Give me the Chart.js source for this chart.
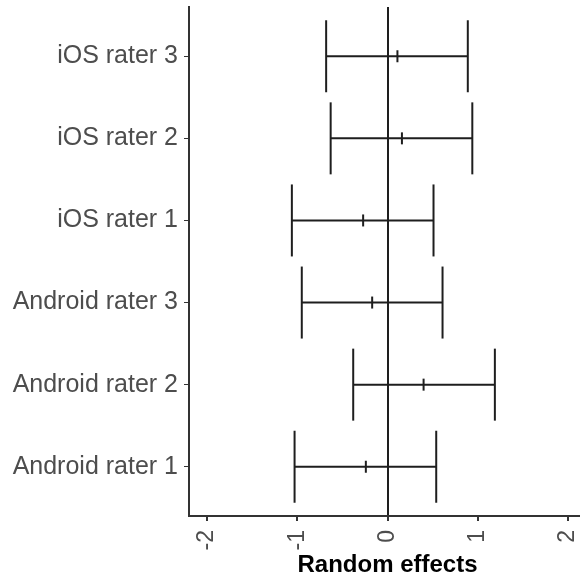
<!DOCTYPE html>
<html>
<head>
<meta charset="utf-8">
<script src="https://cdn.jsdelivr.net/npm/chart.js@4.4.1/dist/chart.umd.min.js"></script>
<style>
  html, body { margin: 0; padding: 0; background: #fff; overflow: hidden; }
  #wrap { width: 580px; height: 580px; overflow: hidden; }
</style>
</head>
<body>
<div id="wrap"><canvas id="chart" width="600" height="580"></canvas></div>
<script>
// bottom to top, as on the y axis
const raters = ['Android rater 1', 'Android rater 2', 'Android rater 3', 'iOS rater 1', 'iOS rater 2', 'iOS rater 3'];
const estimates = [-0.24, 0.40, -0.17, -0.27, 0.16, 0.11];
const lowerCI = [-1.03, -0.38, -0.95, -1.06, -0.63, -0.68];
const upperCI = [0.54, 1.19, 0.61, 0.51, 0.94, 0.89];
const xTickValues = [-2, -1, 0, 1, 2];

const FONT = 'Liberation Sans, Arial, sans-serif';
const INK = '#1e1e1e';

// kill the extra room Chart.js keeps for edge labels
const noPad = s => { s.paddingTop = 0; s.paddingBottom = 0; s.paddingLeft = 0; s.paddingRight = 0; };

// one dataset per error bar: horizontal segment + vertical caps
const barSets = raters.map((r, i) => ({
    label: r,
    data: [{ x: lowerCI[i], y: i + 1 }, { x: upperCI[i], y: i + 1 }],
    showLine: true,
    borderColor: INK,
    borderWidth: 2,
    pointStyle: 'line',
    pointRotation: 90,
    pointRadius: 36,
    pointBorderWidth: 2,
    pointBorderColor: INK,
    pointHoverRadius: 36
}));

const estSet = {
    label: 'estimate',
    data: estimates.map((v, i) => ({ x: v, y: i + 1 })),
    showLine: false,
    pointStyle: 'line',
    pointRotation: 90,
    pointRadius: 6,
    pointBorderWidth: 2,
    pointBorderColor: INK,
    pointHoverRadius: 6
};

new Chart(document.getElementById('chart'), {
    type: 'scatter',
    data: { datasets: [...barSets, estSet] },
    options: {
        responsive: false,
        animation: false,
        events: [],
        layout: { autoPadding: false, padding: { top: 7, right: 14, left: 0, bottom: 0 } },
        plugins: { legend: { display: false }, tooltip: { enabled: false } },
        scales: {
            x: {
                type: 'linear',
                min: -2.2,
                max: 2.2,
                afterBuildTicks: s => { s.ticks = xTickValues.map(v => ({ value: v })); },
                afterFit: s => { s.height = 64; noPad(s); },
                border: { display: true, color: '#333', width: 2 },
                grid: {
                    color: c => (c.tick && c.tick.value === 0 ? INK : 'rgba(0,0,0,0)'),
                    lineWidth: 2,
                    tickColor: '#333',
                    tickLength: 5
                },
                ticks: {
                    minRotation: 90,
                    maxRotation: 90,
                    padding: 9,
                    color: '#4d4d4d',
                    font: { family: FONT, size: 23 }
                },
                title: {
                    display: true,
                    text: 'Random effects',
                    color: '#000',
                    padding: { top: 0, bottom: 0 },
                    font: { family: FONT, size: 24, weight: 'bold' }
                }
            },
            y: {
                type: 'linear',
                min: 0.4,
                max: 6.6,
                afterBuildTicks: s => { s.ticks = raters.map((r, i) => ({ value: i + 1 })); },
                afterFit: s => { s.width = 189; noPad(s); },
                border: { display: true, color: '#333', width: 2 },
                grid: { color: 'rgba(0,0,0,0)', tickColor: '#333', tickLength: 5 },
                ticks: {
                    padding: 6,
                    color: '#4d4d4d',
                    font: { family: FONT, size: 25 },
                    callback: v => raters[v - 1]
                }
            }
        }
    }
});
</script>
</body>
</html>
